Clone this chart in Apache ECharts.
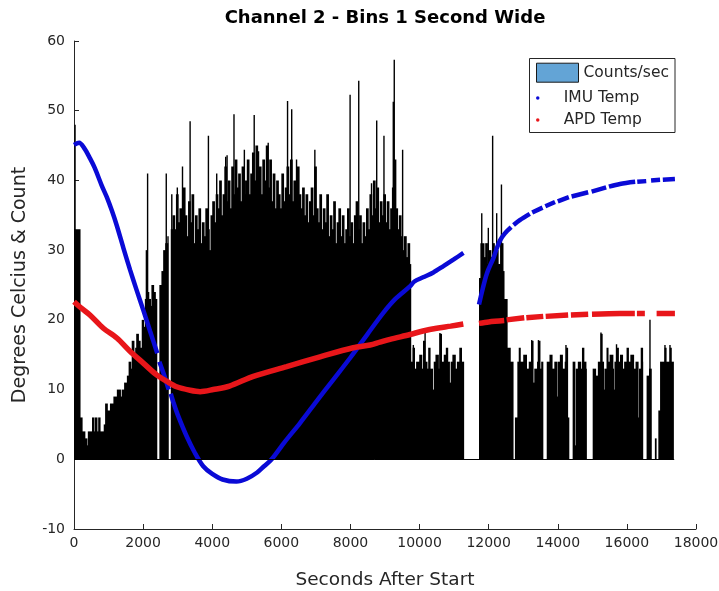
<!DOCTYPE html>
<html><head><meta charset="utf-8">
<script src="https://cdn.jsdelivr.net/npm/echarts@6/dist/echarts.min.js"></script>
<style>html,body{margin:0;padding:0;background:#fff}#c{width:719px;height:591px}</style>
</head><body><div id="c"></div>
<script>
// Histogram (Counts/sec): [bin start (s), count] – value holds until next start
const countBins = [
 [0,33],[160,6],[220,4],[300,3],[360,2],[400,4],[520,6],[560,4],[600,6],[650,4],[700,6],[740,4],[860,5],[900,8],
 [950,7],[1040,8],[1140,9],[1240,10],[1330,9],[1380,10],[1450,11],[1530,12],[1580,14],[1630,13],[1670,17],[1720,15],
 [1770,16],[1800,18],[1850,17],[1900,16],[1960,20],[2000,19],[2050,23],[2080,21],[2110,24],[2150,23],[2200,22],
 [2240,25],[2290,24],[2340,23],[2410,0],
 [2470,25],[2530,27],[2580,30],[2640,31],[2700,32],[2740,0],
 [2800,33],[2850,35],[2900,33],[2950,38],[3000,34],[3050,36],[3100,33],[3150,39],[3200,35],[3250,32],[3300,37],
 [3350,34],[3400,38],[3450,31],[3500,35],[3550,33],[3600,36],[3650,31],[3700,34],[3750,32],[3800,36],[3850,33],
 [3900,30],[3950,35],[4000,37],[4050,34],[4100,38],[4150,36],[4200,40],[4250,35],[4300,38],[4350,42],[4400,37],
 [4450,40],[4500,36],[4550,42],[4600,38],[4650,43],[4700,39],[4750,41],[4800,37],[4850,42],[4900,38],[4950,40],
 [5000,43],[5050,38],[5100,41],[5150,44],[5200,40],[5250,45],[5300,39],[5350,42],[5400,38],[5450,43],[5500,40],
 [5550,45],[5600,39],[5650,43],[5700,37],[5750,41],[5800,36],[5850,40],[5900,38],[5950,36],[6000,41],[6050,37],
 [6100,39],[6150,42],[6200,38],[6250,43],[6300,37],[6350,40],[6400,36],[6450,42],[6500,38],[6550,36],[6600,39],
 [6650,35],[6700,38],[6750,34],[6800,37],[6850,39],[6900,35],[6950,42],[7000,36],[7050,34],[7100,38],[7150,33],
 [7200,36],[7250,34],[7300,38],[7350,32],[7400,35],[7450,33],[7500,37],[7550,31],[7600,34],[7650,36],[7700,32],
 [7750,35],[7800,31],[7850,33],[7900,36],[7950,32],[8000,34],[8050,31],[8100,35],[8150,37],[8200,33],[8250,35],
 [8300,31],[8350,34],[8400,32],[8450,36],[8500,33],[8550,38],[8600,35],[8650,40],[8700,36],[8750,39],[8800,34],
 [8850,37],[8900,35],[8950,38],[9000,34],[9050,37],[9100,33],[9150,36],[9200,39],[9250,43],[9300,36],[9350,33],
 [9400,35],[9450,32],[9500,30],[9550,32],[9600,29],[9650,31],[9700,28],
 [9730,14],[9800,16],[9840,13],[9900,14],[9990,15],[10050,13],[10100,17],[10140,14],[10200,13],[10250,16],
 [10290,13],[10360,10],[10410,14],[10460,15],[10530,13],[10580,18],[10620,14],[10700,15],[10760,16],[10800,14],
 [10850,11],[10900,14],[10950,15],[11020,13],[11080,14],[11150,16],[11200,14],[11290,0],
 [11720,26],[11760,31],[11850,29],[11900,31],[11950,28],[12000,30],[12050,29],[12100,31],[12150,29],[12200,30],
 [12260,28],[12330,31],[12400,27],[12430,23],[12520,16],[12610,14],[12720,0],[12760,6],[12830,14],
 [12870,16],[12900,14],[13000,15],[13080,13],[13160,14],[13240,17],[13270,11],[13320,13],[13400,14],[13440,17],
 [13470,13],[13520,14],[13582,0],
 [13680,14],[13760,15],[13820,13],[13900,14],[13950,9],[13990,14],[14060,15],[14120,13],[14200,14],[14240,16],
 [14270,6],[14334,0],
 [14430,14],[14480,2],[14520,13],[14580,14],[14650,13],[14700,16],[14740,14],[14800,13],[14840,0],
 [15010,13],[15080,12],[15160,14],[15240,18],[15270,14],[15310,10],[15350,13],[15410,16],[15440,14],[15500,15],
 [15580,13],[15600,10],[15640,14],[15700,16],[15740,14],[15800,15],[15860,13],[15920,14],[15990,16],[16030,14],
 [16100,15],[16180,13],[16250,14],[16310,6],[16350,13],[16400,16],[16440,14],[16470,0],
 [16570,12],[16640,13],[16720,0],[16810,3],[16860,0],[16910,7],[16960,14],[17090,16],[17120,14],[17240,16],
 [17270,14],[17360,0]
];
// Isolated tall single-second bins: [second, count]
const countSpikes = [
 [30,48],[2095,30],[2130,41],[2670,41],[2830,38],[2990,39],[3140,42],[3360,48.5],[3890,46.4],[4130,41],
 [4390,43.4],[4430,43.6],[4630,49.5],[4930,44.4],[5215,49.4],[5340,44.2],[5620,45.4],[6180,51.4],[6300,50.2],
 [6440,43],[6970,44.4],[7990,52.3],[8240,54.3],[8610,39.6],[8760,48.6],[8970,46.4],[9240,51.3],[9268,57.3],
 [9510,44.4],[9820,16.4],[10160,18.1],[10590,18.1],[11800,35.3],[11990,33.2],[12115,46.4],[12232,35.3],
 [12370,39.4],[13245,17.1],[13440,17.1],[14237,16.4],[15250,18.2],[15700,16.5],[16668,20],[17102,16.4],[17247,16.4]
];
// IMU temperature samples [s, degC]; null = no samples
const imuTemp = [
 [0,45.1],[150,45.4],[300,44.6],[460,43.2],[600,41.8],[800,39.3],[950,37.6],[1100,35.6],[1240,33.5],[1430,30.3],
 [1620,27.2],[1810,24.3],[2005,21.4],[2200,18.4],[2410,15.2],[2430,null],[2470,14.0],[2600,12.2],[2740,10.0],
 [2760,null],[2800,9.4],[2874,8.2],[3000,6.4],[3260,3.3],[3500,0.9],[3740,-1.0],[4000,-2.1],[4300,-2.9],
 [4700,-3.2],[5000,-2.8],[5300,-1.9],[5500,-1.0],[5720,0.0],[6100,2.5],[6540,5.2],[7000,8.2],[7500,11.4],
 [8000,14.6],[8500,18.0],[8950,21.0],[9300,23.0],[9720,24.8],[9850,25.5],[10100,26.1],[10400,26.8],[10690,27.7],
 [11000,28.7],[11270,29.6],[11290,null],
 [11720,22.2],[11780,23.5],[11845,24.8],[11920,26.2],[11990,27.2],[12060,28.0],[12135,28.8],[12230,30.2],
 [12330,31.4],[12470,32.4],[12650,33.3],[12670,null],[12720,33.6],[12900,34.3],[13190,35.2],[13210,null],
 [13260,35.4],[13560,36.1],[13580,null],[13640,36.3],[13920,36.9],[13940,null],[14000,37.0],[14320,37.6],
 [14340,null],[14400,37.7],[14880,38.3],[14900,null],[14980,38.4],[15400,39.0],[15420,null],[15480,39.1],
 [15800,39.5],[16240,39.8],[16260,null],[16300,39.8],[16560,39.9],[16580,null],[16700,40.0],[16960,40.1],
 [16980,null],[17040,40.1],[17390,40.2]
];
// APD temperature samples [s, degC]
const apdTemp = [
 [0,22.6],[230,21.6],[460,20.7],[850,18.8],[1240,17.4],[1620,15.5],[2005,13.8],[2390,12.1],[2680,11.2],
 [2970,10.4],[3360,9.9],[3650,9.7],[4030,10.0],[4500,10.5],[5190,11.9],[6155,13.3],[7120,14.7],[8080,16.0],
 [8570,16.4],[8855,16.8],[9145,17.2],[9723,17.9],[10100,18.4],[10496,18.8],[10900,19.1],[11266,19.4],[11290,null],
 [11720,19.5],[12000,19.7],[12450,19.9],[12460,null],[12520,20.0],[13030,20.3],[13040,null],[13090,20.3],
 [13580,20.5],[13600,null],[13650,20.5],[14300,20.7],[14320,null],[14380,20.7],[14880,20.8],[14900,null],
 [14990,20.8],[15800,20.9],[16230,20.9],[16250,null],[16290,20.9],[16520,20.9],[16540,null],[16860,20.9],[17390,20.9]
];
const xRange = [0, 18000, 2000];
const yRange = [-10, 60, 10];

// bins as [start, end, count, nextCount] for the custom (histogram) series
const binRects = countBins.map((b, i) => {
  const nxt = countBins[i + 1];
  return [b[0], nxt ? nxt[0] : b[0], b[1], nxt ? nxt[1] : 0];
});

const FONT = 'DejaVu Sans';
const TXT = '#262626';
const chart = echarts.init(document.getElementById('c'), null, {renderer: 'canvas'});
const axisCommon = {
  axisLine: {show: true, onZero: false, lineStyle: {color: TXT, width: 1}},
  axisTick: {show: true, inside: true, length: 5, lineStyle: {color: TXT}},
  splitLine: {show: false},
  nameLocation: 'middle',
  nameTextStyle: {fontFamily: FONT, fontSize: 18.5, color: TXT}
};
chart.setOption({
  animation: false,
  backgroundColor: '#fff',
  textStyle: {fontFamily: FONT},
  title: {
    text: 'Channel 2 - Bins 1 Second Wide', left: 385, top: 9, textAlign: 'center', padding: 0,
    textStyle: {fontFamily: FONT, fontSize: 18, fontWeight: 'bold', color: '#000'}
  },
  grid: {left: 74, right: 23, top: 41, bottom: 62, containLabel: false, outerBoundsMode: 'none'},
  xAxis: Object.assign({}, axisCommon, {
    type: 'value', min: xRange[0], max: xRange[1], interval: xRange[2],
    name: 'Seconds After Start', nameGap: 42,
    axisLabel: {fontFamily: FONT, fontSize: 14, color: TXT, margin: 7, formatter: v => String(v)}
  }),
  yAxis: Object.assign({}, axisCommon, {
    type: 'value', min: yRange[0], max: yRange[1], interval: yRange[2],
    name: 'Degrees Celcius & Count', nameGap: 44,
    nameTextStyle: {fontFamily: FONT, fontSize: 19, color: TXT},
    axisLabel: {fontFamily: FONT, fontSize: 14, color: TXT, margin: 9, formatter: v => String(v)}
  }),
  legend: [
    {left: 536, top: 62.7, orient: 'vertical', padding: 0, itemWidth: 42, itemHeight: 19, selectedMode: false, z: 20,
     textStyle: {fontFamily: FONT, fontSize: 15.5, color: TXT},
     data: [{name: 'Counts/sec', icon: 'rect', itemStyle: {color: '#63A4D6', borderColor: '#1a1a1a', borderWidth: 1}}]},
    {left: 536, top: 89, orient: 'vertical', padding: 0, itemWidth: 42, itemHeight: 3.5, itemGap: 4, selectedMode: false, z: 20,
     textStyle: {fontFamily: FONT, fontSize: 15.5, color: TXT, lineHeight: 18},
     data: [{name: 'IMU Temp', icon: 'circle', itemStyle: {color: '#0a0ad6', borderWidth: 0}},
            {name: 'APD Temp', icon: 'circle', itemStyle: {color: '#e8161a', borderWidth: 0}}]}
  ],
  graphic: {elements: [{type: 'rect', z: 15, silent: true,
    shape: {x: 529.5, y: 58.5, width: 145.5, height: 74},
    style: {fill: '#fff', stroke: '#262626', lineWidth: 1}}]},
  series: [
    {name: 'Counts/sec', type: 'custom', data: binRects, z: 2,
     dimensions: ['start', 'end', 'count', 'next'], encode: {x: [0, 1], y: 2},
     itemStyle: {color: '#000'},
     renderItem: function (params, api) {
       const v = api.value(2);
       if (!(v > 0)) return null;
       const p0 = api.coord([api.value(0), v]);
       const p1 = api.coord([api.value(1), 0]);
       const overlap = api.value(3) > 0 ? 1 : 0;
       return {type: 'rect', shape: {x: p0[0], y: p0[1], width: p1[0] - p0[0] + overlap, height: p1[1] - p0[1]},
               style: {fill: '#000'}};
     }},
    {name: 'Counts/sec', type: 'bar', data: countSpikes, barWidth: 1.4, z: 2,
     itemStyle: {color: '#000'},
     markLine: {silent: true, symbol: ['none', 'none'], label: {show: false},
       lineStyle: {color: '#000', width: 1, type: 'solid'},
       data: [[{coord: [0, 0]}, {coord: [17370, 0]}]]}},
    {name: 'IMU Temp', type: 'line', data: imuTemp, symbol: 'none', smooth: 0.3, connectNulls: false, z: 3,
     lineStyle: {color: '#0a0ad6', width: 4.5}, itemStyle: {color: '#0a0ad6'}},
    {name: 'APD Temp', type: 'line', data: apdTemp, symbol: 'none', smooth: 0.3, connectNulls: false, z: 4,
     lineStyle: {color: '#e8161a', width: 5.5}, itemStyle: {color: '#e8161a'}}
  ]
});
</script></body></html>
